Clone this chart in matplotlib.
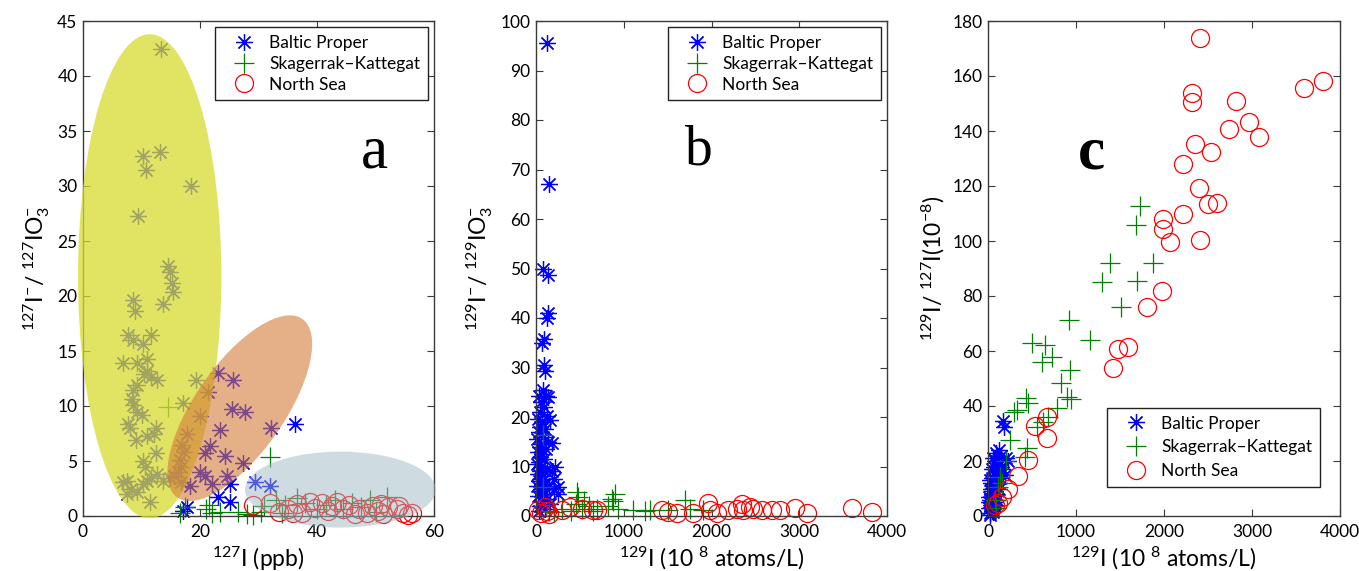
import matplotlib
matplotlib.use("Agg")
import matplotlib.pyplot as plt
from matplotlib.patches import Ellipse
from matplotlib.transforms import ScaledTranslation

plt.rcParams['font.family'] = ['Lato', 'DejaVu Sans']
plt.rcParams['mathtext.fontset'] = 'custom'
plt.rcParams['mathtext.rm'] = 'Lato'
plt.rcParams['mathtext.it'] = 'Lato:italic'
plt.rcParams['mathtext.bf'] = 'Lato:bold'

# ---------------- data ----------------
series_names = ["Baltic Proper", "Skagerrak\u2013Kattegat", "North Sea"]

# panel a : 127I (ppb) vs 127I-/127IO3-
a_baltic_x = [13.3, 13.2, 10.2, 10.8, 18.5, 9.45, 14.6, 14.9, 15.2, 15.4, 13.6, 8.6, 8.9, 7.75, 11.7,
              8.6, 10.3, 6.9, 9.2, 10.9, 10.9, 10.5, 11.7, 12.6, 8.6, 9.2, 8.3, 8.6, 9.3, 10.0,
              7.75, 8.0, 12.5, 12.2, 10.9, 9.0, 12.5, 10.3, 10.6, 6.8, 7.6, 8.2, 7.6, 9.2, 10.3,
              10.9, 11.7, 12.6, 11.5, 13.6, 14.8, 19.4, 17.1, 20.0, 21.4, 23.1, 25.7, 25.4, 27.7, 23.4,
              32.2, 36.3, 21.7, 20.8, 24.3, 27.4, 20.0, 20.9, 22.0, 24.6, 25.1, 23.1, 18.3, 17.7, 25.1,
              29.4, 31.9, 17.7, 17.0, 17.2, 16.5, 16.8, 15.6, 16.8, 16.2, 17.1]
a_baltic_y = [42.5, 33.1, 32.7, 31.5, 30.0, 27.3, 22.75, 22.2, 21.2, 20.4, 19.3, 19.6, 18.6, 16.5, 16.5,
              16.0, 15.6, 13.9, 13.9, 14.3, 13.2, 12.9, 12.6, 12.4, 11.5, 11.9, 10.6, 10.1, 9.5, 9.2,
              8.4, 8.0, 8.0, 7.5, 7.3, 6.9, 5.7, 5.0, 4.5, 3.1, 3.2, 2.5, 2.0, 2.2, 2.9,
              3.2, 3.5, 3.8, 1.3, 3.2, 3.5, 12.4, 10.3, 9.1, 11.3, 13.0, 12.4, 9.7, 9.5, 7.8,
              8.0, 8.4, 6.4, 5.7, 5.5, 4.8, 4.0, 3.6, 2.9, 3.6, 2.9, 1.75, 2.7, 0.85, 1.3,
              3.1, 2.7, 7.5, 6.5, 5.8, 5.1, 4.5, 3.6, 3.1, 4.0, 0.5]
a_skag_x = [14.6, 32.0, 51.9, 16.5, 17.5, 21.0, 21.5, 22.0, 26.5, 28.0, 29.0, 30.5, 33.0, 34.5,
            36.5, 38.0, 40.0, 41.5, 43.0, 44.5, 46.0, 47.5, 49.0, 50.0, 34.0, 31.0, 23.5]
a_skag_y = [9.9, 5.4, 1.75, 0.3, 0.8, 0.6, 1.0, 0.3, 0.4, 0.2, 0.1, 0.4, 1.5, 1.0,
            1.6, 1.2, 0.6, 1.0, 1.5, 0.6, 1.2, 0.8, 1.5, 0.4, 0.3, 0.9, 0.4]
a_north_x = [29.1, 32.0, 35.1, 35.9, 36.5, 38.8, 39.7, 40.8, 41.9, 43.4, 44.5, 45.5, 47.1, 48.5,
             49.6, 50.5, 51.3, 52.2, 53.6, 54.7, 56.2, 54.0, 51.0, 42.5, 37.5, 33.5, 46.5, 55.5]
a_north_y = [1.0, 1.2, 0.6, 0.3, 1.1, 1.3, 0.7, 1.2, 0.5, 1.3, 0.6, 1.0, 0.6, 0.3,
             0.9, 0.5, 0.2, 0.8, 0.6, 0.3, 0.3, 0.9, 1.1, 0.9, 0.3, 0.4, 0.2, 0.1]

# panel b : 129I (1e8 atoms/L) vs 129I-/129IO3-
b_baltic_x = [122, 148, 84, 140, 122, 135, 95, 70, 95, 100, 84, 30, 110, 60, 90, 40, 120, 20, 70, 50,
              100, 30, 80, 10, 140, 60, 40, 110, 20, 70, 50, 90, 30, 10, 60, 120, 40, 20, 80, 180,
              50, 30, 100, 150, 10, 60, 40, 200, 90, 20, 120, 70, 160, 40, 250, 210, 30, 100, 254,
              217, 179, 160, 140]
b_baltic_y = [95.6, 67.1, 50.0, 48.7, 40.1, 41.0, 35.7, 34.9, 30.6, 29.3, 25.5, 24.2, 24.2, 23.0, 22.0,
              21.0, 20.3, 19.5, 19.0, 18.0, 17.5, 17.0, 16.0, 15.5, 15.0, 14.5, 14.0, 13.5, 13.0, 12.5,
              12.0, 11.5, 11.0, 10.5, 10.0, 9.5, 9.0, 8.5, 8.0, 9.0, 7.5, 7.0, 6.5, 6.0, 6.0,
              5.5, 5.0, 5.5, 4.5, 4.0, 3.5, 3.0, 2.5, 2.0, 4.5, 7.5, 1.0, 1.5, 5.9,
              10.0, 14.7, 19.4, 24.1]
b_skag_x = [84, 84, 482, 460, 520, 400, 600, 650, 862, 900, 882, 820, 940, 1109, 1244, 1300,
            1500, 1698, 1750, 1907, 300, 200, 150, 700, 550, 470]
b_skag_y = [16.4, 5.9, 3.9, 2.5, 1.5, 1.0, 2.0, 1.0, 3.4, 4.5, 3.0, 2.0, 1.5, 1.2, 1.0, 1.3,
            1.2, 3.2, 1.5, 1.2, 1.5, 0.8, 1.0, 1.5, 3.0, 4.8]
b_north_x = [26, 60, 122, 150, 293, 387, 520, 653, 691, 1431, 1508, 1603, 1793, 1964, 1983, 2059,
             2191, 2287, 2344, 2363, 2439, 2477, 2572, 2686, 2781, 2952, 3085, 3598, 3826, 100]
b_north_y = [1.2, 0.6, 1.0, 0.5, 1.2, 1.9, 1.5, 1.3, 1.2, 1.2, 0.9, 0.6, 0.6, 2.6, 1.2, 0.6,
             1.2, 1.5, 2.5, 1.2, 1.9, 1.5, 1.2, 1.2, 1.2, 1.7, 0.6, 1.6, 0.8, 1.8]

# panel c : 129I (1e8 atoms/L) vs 129I/127I (1e-8)
c_baltic_x = [174, 180, 120, 90, 150, 60, 200, 100, 130, 70, 40, 160, 110, 80, 50, 140, 20, 100, 60,
              30, 120, 80, 40, 10, 60, 100, 20, 50, 30, 70, 10, 40, 20, 60, 90, 130, 150, 75, 35,
              45, 15, 25, 55, 85, 230, 190]
c_baltic_y = [34.7, 32.5, 24, 23, 22, 21, 21, 20, 19, 18, 17, 17, 16, 15, 14, 14, 13, 12, 11,
              10, 10, 9, 8, 7, 7, 6, 6, 5, 4, 4, 3, 2, 1, 2.5, 8, 12, 18, 20, 12,
              9, 5, 0.5, 1.5, 5, 20, 15]
c_skag_x = [1727, 1682, 1386, 1879, 1292, 1690, 1508, 917, 1159, 497, 648, 610, 724, 932, 830, 894,
            940, 432, 458, 780, 629, 553, 250, 439, 420, 300, 136, 117, 80, 90, 200, 160, 680, 326]
c_skag_y = [112.7, 105.8, 91.9, 91.9, 85.2, 85.5, 75.9, 71.3, 64.0, 62.8, 62.2, 56.1, 57.7, 53.1,
            48.3, 43.4, 42.4, 42.8, 41.0, 39.2, 34.3, 32.5, 27.6, 24.6, 21.6, 38.0, 14.3, 10.7,
            6.0, 3.0, 20.0, 12.0, 36.0, 38.5]
c_north_x = [2409, 3811, 3594, 2318, 2318, 2815, 2966, 2739, 3080, 2352, 2534, 2219, 2401, 2504,
             2599, 2219, 1985, 1985, 2068, 2409, 1974, 1803, 1587, 1481, 1417, 667, 534, 674, 458,
             345, 231, 155, 117, 80]
c_north_y = [174.0, 158.3, 155.5, 153.7, 150.7, 151.0, 143.4, 140.7, 137.9, 135.3, 132.3, 128.0,
             119.2, 113.5, 113.9, 109.9, 107.9, 104.3, 99.8, 100.4, 81.9, 75.9, 61.6, 60.7, 53.7,
             36.1, 32.8, 28.2, 20.4, 14.7, 10.0, 7.0, 4.6, 4.0]

# ---------------- styling ----------------
BLUE = '#0000ff'
GREEN = '#008000'
RED = '#ff0000'
SPINE = '#3a3a3a'

fig = plt.figure(figsize=(13.59, 5.71), dpi=100)
W, H = 1359.0, 571.0
ax_a = fig.add_axes([83 / W, 55 / H, 351 / W, 495 / H])
ax_b = fig.add_axes([536 / W, 55 / H, 351 / W, 495 / H])
ax_c = fig.add_axes([988 / W, 55 / H, 352 / W, 495 / H])


def draw_series(ax, bx, by, sx, sy, nx, ny):
    h1, = ax.plot(bx, by, linestyle='none', marker=(8, 2, 0), ms=12, mew=0.9,
                  color=BLUE, zorder=2, clip_on=False)
    h2, = ax.plot(sx, sy, linestyle='none', marker='+', ms=14, mew=0.9,
                  color=GREEN, zorder=2, clip_on=False)
    h3, = ax.plot(nx, ny, linestyle='none', marker='o', ms=13, mew=0.9,
                  mfc='none', mec=RED, zorder=2, clip_on=False)
    return [h1, h2, h3]


def style_axes(ax, xlim, ylim, xticks, yticks):
    ax.set_xlim(*xlim)
    ax.set_ylim(*ylim)
    ax.set_xticks(xticks)
    ax.set_yticks(yticks)
    ax.tick_params(direction='in', top=True, right=True, length=5, width=0.8,
                   color=SPINE, labelsize=12.5, labelcolor='black')
    ax.tick_params(axis='x', pad=6)
    ax.tick_params(axis='y', pad=4)
    for s in ax.spines.values():
        s.set_color(SPINE)
        s.set_linewidth(1.0)


def add_legend(ax, handles, anchor, loc, fs, spacing):
    leg = ax.legend(handles, series_names, loc=loc, bbox_to_anchor=anchor,
                    borderaxespad=0, fontsize=fs, numpoints=1, handlelength=2.4,
                    handletextpad=0.25, labelspacing=spacing, borderpad=0.45,
                    fancybox=False, framealpha=1, edgecolor='#222222')
    leg.get_frame().set_linewidth(1.0)
    leg.set_zorder(10)
    return leg


# panel a
ha = draw_series(ax_a, a_baltic_x, a_baltic_y, a_skag_x, a_skag_y, a_north_x, a_north_y)
style_axes(ax_a, (0, 60), (0, 45), [0, 20, 40, 60], list(range(0, 50, 5)))
# highlighted regions
ax_a.add_patch(Ellipse((11.4, 21.8), 24.5, 44.0, facecolor='#d8dc2e', edgecolor='none',
                       alpha=0.75, zorder=3, clip_on=False))
orange_tr = fig.dpi_scale_trans + ScaledTranslation(26.8, 9.8, ax_a.transData)
ax_a.add_patch(Ellipse((0, 0), 2.18, 0.89, angle=55, facecolor='#d47a38', edgecolor='none',
                       alpha=0.6, zorder=3.1, clip_on=False, transform=orange_tr))
ax_a.add_patch(Ellipse((44.0, 2.4), 32.6, 6.9, facecolor='#9fb9c2', edgecolor='none',
                       alpha=0.5, zorder=3.2, clip_on=False))
add_legend(ax_a, ha, (1 - 6 / 351, 1 - 6 / 495), 'upper right', 12.5, 0.28)
ax_a.set_xlabel('$^{127}$I (ppb)', fontsize=16.5, labelpad=3)
ax_a.set_ylabel('$^{127}$I$^{-}$/ $^{127}$IO$_{3}^{-}$', fontsize=16.5, labelpad=4)
ax_a.text(0.829, 0.705, 'a', transform=ax_a.transAxes, ha='center', va='baseline',
          fontsize=44, family='Liberation Serif', zorder=11)

# panel b
hb = draw_series(ax_b, b_baltic_x, b_baltic_y, b_skag_x, b_skag_y, b_north_x, b_north_y)
style_axes(ax_b, (0, 4000), (0, 100), [0, 1000, 2000, 3000, 4000], list(range(0, 110, 10)))
add_legend(ax_b, hb, (1 - 6 / 351, 1 - 6 / 495), 'upper right', 12.5, 0.28)
ax_b.set_xlabel('$^{129}$I (10 $^{8}$ atoms/L)', fontsize=16.5, labelpad=3)
ax_b.set_ylabel('$^{129}$I$^{-}$/ $^{129}$IO$_{3}^{-}$', fontsize=16.5, labelpad=4)
ax_b.text(0.464, 0.711, 'b', transform=ax_b.transAxes, ha='center', va='baseline',
          fontsize=40, family='Liberation Serif', zorder=11)

# panel c
hc = draw_series(ax_c, c_baltic_x, c_baltic_y, c_skag_x, c_skag_y, c_north_x, c_north_y)
style_axes(ax_c, (0, 4000), (0, 180), [0, 1000, 2000, 3000, 4000], list(range(0, 200, 20)))
add_legend(ax_c, hc, ((1320 - 988) / 352, (516 - 487) / 495), 'lower right', 12.5, 0.45)
ax_c.set_xlabel('$^{129}$I (10 $^{8}$ atoms/L)', fontsize=16.5, labelpad=3)
ax_c.set_ylabel('$^{129}$I/ $^{127}$I(10$^{-8}$)', fontsize=16.5, labelpad=4)
ax_c.text(0.295, 0.703, 'c', transform=ax_c.transAxes, ha='center', va='baseline',
          fontsize=44, family='Liberation Serif', fontweight='bold', zorder=11)

fig.savefig('out.png', dpi=100)
